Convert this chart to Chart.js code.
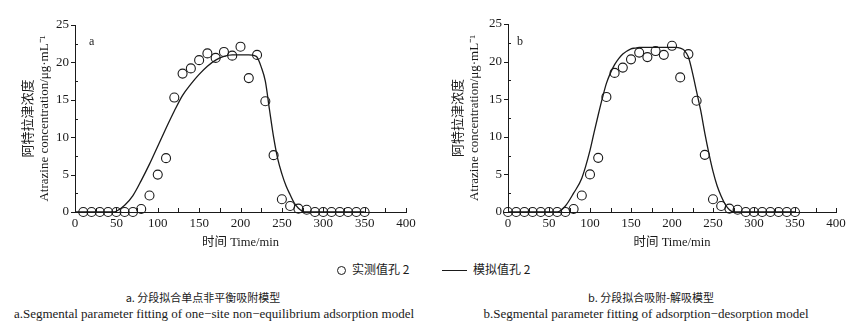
<!DOCTYPE html>
<html>
<head>
<meta charset="utf-8">
<script src="https://cdn.jsdelivr.net/npm/chart.js@4/dist/chart.umd.min.js"></script>
<style>
  body { margin: 0; background: #fff; }
  #page { position: relative; width: 855px; height: 327px; overflow: hidden; background: #fff; color: #1a1a1a; }
  canvas { position: absolute; top: 0; }
  .txt { position: absolute; white-space: nowrap; line-height: 1; }
  .serif { font-family: "Liberation Serif", "Noto Sans CJK SC", serif; }
  .cjk { font-family: "Noto Sans CJK SC", sans-serif; }
</style>
</head>
<body>
<div id="page">
  <canvas id="chartA" width="430" height="255" style="left:0"></canvas>
  <canvas id="chartB" width="425" height="255" style="left:430px"></canvas>

  <div class="txt serif" style="left:89px; top:35px; font-size:12px;">a</div>
  <div class="txt serif" style="left:517px; top:35px; font-size:12px;">b</div>

  <!-- legend -->
  <div style="position:absolute; left:337px; top:266px; width:7px; height:7px; border:1.2px solid #1a1a1a; border-radius:50%;"></div>
  <div class="txt cjk" style="left:352px; top:263px; font-size:12px;">实测值孔 2</div>
  <div style="position:absolute; left:442px; top:270px; width:25px; height:1.3px; background:#1a1a1a;"></div>
  <div class="txt cjk" style="left:473px; top:263px; font-size:12px;">模拟值孔 2</div>

  <!-- captions -->
  <div class="txt cjk" style="left:203px; top:292px; font-size:11px; transform:translateX(-50%);">a. 分段拟合单点非平衡吸附模型</div>
  <div class="txt serif" style="left:214px; top:307px; font-size:13px; transform:translateX(-50%);">a.Segmental parameter fitting of one−site non−equilibrium adsorption model</div>
  <div class="txt cjk" style="left:651px; top:292px; font-size:11px; transform:translateX(-50%);">b. 分段拟合吸附-解吸模型</div>
  <div class="txt serif" style="left:646px; top:307px; font-size:13px; transform:translateX(-50%);">b.Segmental parameter fitting of adsorption−desorption model</div>
</div>

<script>
// measured breakthrough data (实测值孔 2)
const measuredTimesA = [10, 20, 30, 40, 50, 60, 70, 80, 90, 100, 110, 120, 130, 140, 150, 160, 170, 180, 190, 200, 210, 220, 230, 240, 250, 260, 270, 280, 290, 300, 310, 320, 330, 340, 350];
const measuredValuesA = [0, 0, 0, 0, 0, 0, 0, 0.4, 2.2, 5.0, 7.2, 15.3, 18.5, 19.2, 20.3, 21.2, 20.6, 21.4, 20.9, 22.1, 17.9, 21.0, 14.8, 7.6, 1.7, 0.8, 0.45, 0.3, 0, 0, 0, 0, 0, 0, 0];
const measuredTimesB = [0, 10, 20, 30, 40, 50, 60, 70, 80, 90, 100, 110, 120, 130, 140, 150, 160, 170, 180, 190, 200, 210, 220, 230, 240, 250, 260, 270, 280, 290, 300, 310, 320, 330, 340, 350];
const measuredValuesB = [0, 0, 0, 0, 0, 0, 0, 0, 0.4, 2.2, 5.0, 7.2, 15.3, 18.5, 19.2, 20.3, 21.2, 20.6, 21.4, 20.9, 22.1, 17.9, 21.0, 14.8, 7.6, 1.7, 0.8, 0.45, 0.3, 0, 0, 0, 0, 0, 0, 0];

// simulated curves (模拟值孔 2)
const modelTimesA = [0, 45, 50, 60, 70, 80, 90, 100, 110, 120, 130, 140, 150, 160, 170, 180, 190, 200, 210, 217, 220, 225, 230, 235, 240, 245, 250, 255, 260, 265, 270, 275, 280, 350];
const modelValuesA = [0, 0, 0.1, 0.9, 2.2, 4.2, 6.4, 8.8, 11.2, 13.5, 15.6, 17.1, 18.4, 19.5, 20.3, 20.8, 21.0, 21.0, 21.0, 20.9, 20.7, 19.4, 17.5, 13.7, 10.0, 7.1, 5.1, 3.5, 2.3, 1.2, 0.5, 0.1, 0, 0];
const modelTimesB = [0, 60, 70, 80, 90, 100, 105, 110, 115, 120, 125, 130, 135, 140, 150, 155, 160, 180, 205, 210, 215, 220, 225, 230, 235, 240, 245, 250, 255, 260, 265, 270, 275, 350];
const modelValuesB = [0, 0, 0.8, 2.5, 4.5, 8.2, 10.6, 12.9, 15.1, 17.1, 18.5, 19.6, 20.4, 21.0, 21.7, 21.8, 21.9, 21.9, 21.9, 21.8, 21.5, 20.6, 18.5, 16.0, 13.5, 10.5, 7.8, 5.4, 3.5, 2.1, 1.0, 0.3, 0, 0];

// axis ticks
const xTickLabels = [0, 50, 100, 150, 200, 250, 300, 350, 400];
const xTickMarks = [0, 25, 50, 75, 100, 125, 150, 175, 200, 225, 250, 275, 300, 325, 350, 375, 400];
const yTickLabels = [0, 5, 10, 15, 20, 25];
const yTickMarks = [0, 2.5, 5, 7.5, 10, 12.5, 15, 17.5, 20, 22.5, 25];

const ink = '#1a1a1a';

function toPoints(xs, ys) {
    return xs.map(function(x, i) { return { x: x, y: ys[i] }; });
}

// short tick marks: x ticks point up into the plot, y majors point out, minors in
const tickMarksPlugin = {
    id: 'tickMarks',
    afterDraw: function(chart) {
        const ctx = chart.ctx;
        const xs = chart.scales.x;
        const ys = chart.scales.y;
        ctx.save();
        ctx.strokeStyle = ink;
        ctx.lineWidth = 1;
        xTickMarks.forEach(function(v) {
            const px = Math.round(xs.getPixelForValue(v)) + 0.5;
            ctx.beginPath();
            ctx.moveTo(px, ys.bottom);
            ctx.lineTo(px, ys.bottom - 4);
            ctx.stroke();
        });
        yTickMarks.forEach(function(v) {
            const py = Math.round(ys.getPixelForValue(v)) + 0.5;
            const major = yTickLabels.indexOf(v) >= 0;
            ctx.beginPath();
            ctx.moveTo(xs.left, py);
            ctx.lineTo(major ? xs.left - 4 : xs.left + 3, py);
            ctx.stroke();
        });
        ctx.restore();
    }
};

function makeChart(canvasId, mTimes, mValues, sTimes, sValues, yWidth, padTop, padRight) {
    const ctx = document.getElementById(canvasId).getContext('2d');
    return new Chart(ctx, {
        type: 'scatter',
        data: {
            datasets: [
                {
                    label: '实测值孔 2',
                    data: toPoints(mTimes, mValues),
                    showLine: false,
                    pointRadius: 4.5,
                    pointHoverRadius: 4.5,
                    pointBorderWidth: 1.1,
                    pointBorderColor: ink,
                    pointBackgroundColor: 'rgba(0,0,0,0)',
                    clip: false,
                    order: 1
                },
                {
                    label: '模拟值孔 2',
                    data: toPoints(sTimes, sValues),
                    showLine: true,
                    borderColor: ink,
                    borderWidth: 1.3,
                    pointRadius: 0,
                    cubicInterpolationMode: 'monotone',
                    order: 2
                }
            ]
        },
        options: {
            responsive: false,
            animation: false,
            devicePixelRatio: 1,
            layout: { padding: { top: padTop, right: padRight, left: 0, bottom: 0 } },
            plugins: { legend: { display: false }, tooltip: { enabled: false } },
            scales: {
                x: {
                    type: 'linear',
                    min: 0,
                    max: 400,
                    afterBuildTicks: function(scale) {
                        scale.ticks = xTickLabels.map(function(v) { return { value: v }; });
                    },
                    afterFit: function(scale) { scale.height = 43; },
                    grid: { display: true, drawOnChartArea: false, drawTicks: false },
                    border: { display: true, color: ink, width: 1 },
                    ticks: {
                        padding: 4,
                        color: ink,
                        maxRotation: 0,
                        font: { family: '"Liberation Serif", serif', size: 13 }
                    },
                    title: {
                        display: true,
                        text: '时间 Time/min',
                        color: ink,
                        padding: { top: 0, bottom: 5 },
                        font: { family: '"Liberation Serif", "Noto Sans CJK SC", serif', size: 12.5 }
                    }
                },
                y: {
                    type: 'linear',
                    min: 0,
                    max: 25,
                    afterBuildTicks: function(scale) {
                        scale.ticks = yTickLabels.map(function(v) { return { value: v }; });
                    },
                    afterFit: function(scale) { scale.width = yWidth; },
                    grid: { display: true, drawOnChartArea: false, drawTicks: false },
                    border: { display: true, color: ink, width: 1 },
                    ticks: {
                        padding: 6,
                        color: ink,
                        font: { family: '"Liberation Serif", serif', size: 13 }
                    },
                    title: {
                        display: true,
                        text: ['阿特拉津浓度', 'Atrazine concentration/μg·mL⁻¹'],
                        color: ink,
                        padding: { top: 21, bottom: 0 },
                        font: { family: '"Liberation Serif", "Noto Sans CJK SC", serif', size: 13, lineHeight: 1.23 }
                    }
                }
            }
        },
        plugins: [tickMarksPlugin]
    });
}

makeChart('chartA', measuredTimesA, measuredValuesA, modelTimesA, modelValuesA, 75, 25, 24);
makeChart('chartB', measuredTimesB, measuredValuesB, modelTimesB, modelValuesB, 78, 24, 19);
</script>
</body>
</html>
